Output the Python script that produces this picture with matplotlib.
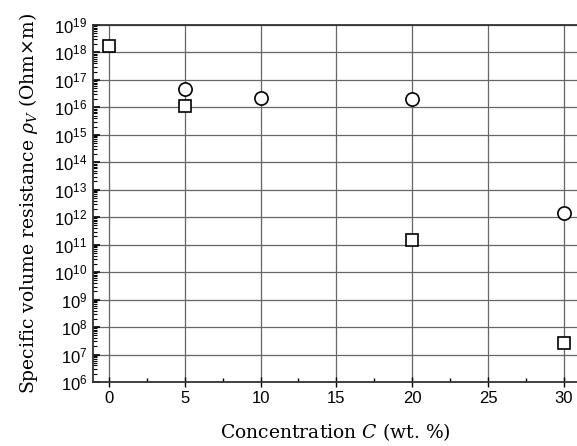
import numpy as np
import matplotlib
matplotlib.use("Agg")
import matplotlib.pyplot as plt
from matplotlib.ticker import LogLocator, FuncFormatter, MultipleLocator, NullFormatter

# data
conc_sq = [0, 5, 20, 30]
rho_sq = [1.7e18, 1.1e16, 1.5e11, 2.7e7]
conc_ci = [5, 10, 20, 30]
rho_ci = [4.7e16, 2.2e16, 2.0e16, 1.45e12]

plt.rcParams['font.family'] = 'Liberation Sans'
plt.rcParams['mathtext.fontset'] = 'custom'
plt.rcParams['mathtext.rm'] = 'DejaVu Serif'
plt.rcParams['mathtext.it'] = 'DejaVu Serif:italic'

fig = plt.figure(figsize=(5.77, 4.46), dpi=100)
ax = fig.add_axes([0.161, 0.1435, 0.839, 0.8005])

ax.plot(conc_sq, rho_sq, linestyle='none', marker='s', ms=8, mfc='white',
        mec='black', mew=1.2, zorder=3)
ax.plot(conc_ci, rho_ci, linestyle='none', marker='o', ms=9.5, mfc='white',
        mec='black', mew=1.2, zorder=3)

ax.set_yscale('log')
ax.set_ylim(1e6, 1e19)
ax.set_xlim(-1.05, 30.86)

ax.xaxis.set_major_locator(MultipleLocator(5))
ax.xaxis.set_minor_locator(MultipleLocator(2.5))
ax.yaxis.set_major_locator(LogLocator(base=10, numticks=20))
ax.yaxis.set_minor_locator(LogLocator(base=10, subs=np.arange(2, 10), numticks=20))
ax.yaxis.set_minor_formatter(NullFormatter())
ax.yaxis.set_major_formatter(FuncFormatter(
    lambda v, p: r'$\mathregular{10^{%d}}$' % round(np.log10(v))))

ax.grid(True, which='major', color='#666666', linewidth=0.9)
ax.set_axisbelow(True)

ax.tick_params(axis='y', which='major', direction='in', length=5, width=1.2,
               labelsize=12, pad=4)
ax.tick_params(axis='y', which='minor', direction='in', length=3, width=0.8)
ax.tick_params(axis='x', which='major', direction='inout', length=7, width=1.0,
               labelsize=12, pad=3)
ax.tick_params(axis='x', which='minor', direction='in', length=3, width=1.0)

for s in ['top', 'left', 'bottom']:
    ax.spines[s].set_linewidth(1.3)
    ax.spines[s].set_color('#333333')
ax.spines['right'].set_visible(False)

ax.set_xlabel(r'Concentration $C$ (wt. %)', family='DejaVu Serif',
              fontsize=13.5, labelpad=11)
ax.set_ylabel(r'Specific volume resistance $\rho_V$ (Ohm×m)',
              family='DejaVu Serif', fontsize=13.5, labelpad=10)

fig.savefig('out.png', dpi=100)
